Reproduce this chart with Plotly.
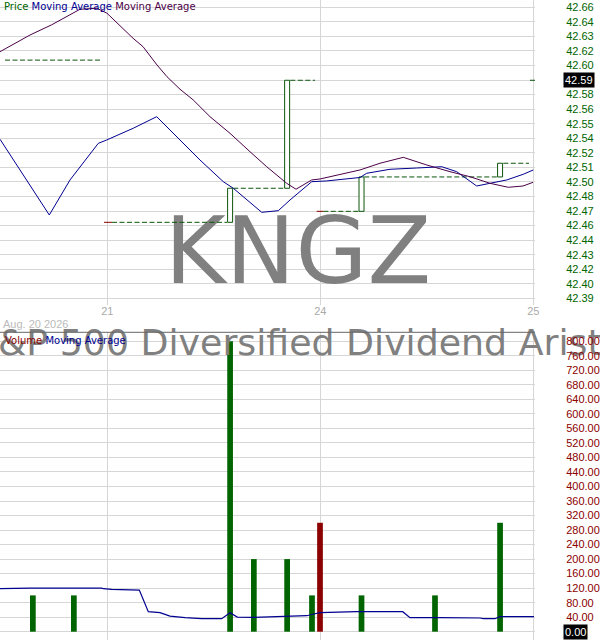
import plotly.graph_objects as go

# ---------------- data ----------------
# x positions are in trading-day units: 1 = start of Aug 21, 2 = Aug 24, 3 = Aug 25
day_ticks = [1, 2, 3]
day_labels = ["21", "24", "25"]
x_start, x_end = 0.4962, 3.008
date_label = "Aug. 20 2026"
ticker = "KNGZ"
fund_name = "S&P 500 Diversified Dividend Aristocrats ETF"

price_tick_base = 42.39
price_tick_step = 0.0135
price_tick_labels = ["42.39", "42.40", "42.42", "42.43", "42.44", "42.46", "42.47",
                     "42.48", "42.50", "42.51", "42.52", "42.54", "42.55", "42.56",
                     "42.58", "42.59", "42.60", "42.62", "42.63", "42.64", "42.66"]
last_price_label = "42.59"

# trades drawn as hollow candles
candle_x = [1.5765, 1.8443, 2.1935, 2.8440]
candle_open = [42.4605, 42.4921, 42.4707, 42.5026]
candle_close = [42.4921, 42.5923, 42.5026, 42.5153]

# last close carried forward (dashed)
flat_x0 = [0.5197, 1.0221, 1.5915, 1.8592, 2.0141, 2.2066, 2.8592]
flat_x1 = [0.9751, 1.5620, 1.8296, 1.9751, 2.1817, 2.8296, 2.9798]
flat_level = [42.611, 42.4605, 42.4921, 42.5923, 42.4707, 42.5026, 42.5153]

# session opening ticks
open_x0 = [0.9845, 1.9831, 2.9845]
open_x1 = [1.0221, 2.0141, 3.0174]
open_level = [42.4605, 42.4707, 42.5923]
open_up = [False, False, True]

# moving averages of price
ma1_x = [0.4962, 0.5901, 0.7277, 0.8249, 0.9577, 0.9972, 1.1221, 1.2319, 1.3413,
         1.4352, 1.5446, 1.5915, 1.7249, 1.8028, 1.8577, 1.9596, 2.0300, 2.1864,
         2.2178, 2.3272, 2.4526, 2.5700, 2.6404, 2.7343, 2.7967, 2.8751, 2.9531, 3.0000]
ma1_y = [42.5376, 42.5091, 42.4673, 42.4998, 42.5338, 42.5369, 42.5478, 42.5585, 42.5369,
         42.5183, 42.4982, 42.4921, 42.4698, 42.4713, 42.4812, 42.4982, 42.4989, 42.5021,
         42.5060, 42.5097, 42.5109, 42.5121, 42.5075, 42.4942, 42.4967, 42.4998, 42.5051, 42.5091]

ma2_x = [0.4962, 0.6371, 0.7371, 0.8718, 0.9516, 0.9986, 1.1207, 1.1676, 1.2333, 1.2803,
         1.3413, 1.4038, 1.4822, 1.5761, 1.6700, 1.7484, 1.8423, 1.8859, 1.9596, 1.9986,
         2.1864, 2.2803, 2.3897, 2.4995, 2.6089, 2.7028, 2.7967, 2.8826, 2.9516, 2.9986]
ma2_y = [42.6188, 42.6343, 42.6436, 42.6582, 42.6591, 42.6545, 42.6313, 42.6235, 42.6065, 42.5956,
         42.5840, 42.5740, 42.5585, 42.5431, 42.5260, 42.5121, 42.4967, 42.4912, 42.4998, 42.5007,
         42.5091, 42.5153, 42.5208, 42.5137, 42.5075, 42.5028, 42.4967, 42.4930, 42.4942, 42.4976]

# volume
vol_x = [0.6505, 0.8430, 1.5765, 1.6880, 1.8443, 1.9610, 1.9986, 2.1935, 2.5385, 2.8440]
vol = [100, 100, 800, 200, 200, 100, 300, 100, 100, 300]
vol_up = [True, True, True, True, True, True, False, True, True, True]
vol_ticks = list(range(0, 801, 40))
last_volume_label = "0.00"

vol_ma_x = [0.4962, 0.6371, 0.9737, 0.9812, 1.0207, 1.1502, 1.1925, 1.2474, 1.2944, 1.3648,
            1.4432, 1.5371, 1.5761, 1.6103, 1.6854, 1.7638, 1.9362, 1.9751, 1.9986, 2.1709,
            2.3869, 2.4211, 2.5150, 2.5620, 2.7498, 2.7653, 2.8202, 2.8437, 3.0033]
vol_ma_y = [118.4, 120.0, 120.0, 118.4, 116.4, 114.5, 55.0, 52.3, 43.0, 38.5,
            35.8, 35.8, 52.3, 40.2, 39.4, 41.3, 44.0, 49.5, 52.3, 55.0,
            55.0, 38.5, 39.4, 38.5, 37.7, 35.8, 35.8, 41.3, 41.3]

# ---------------- style ----------------
GREEN = "#006400"
CANDLE = "#0b560b"
RED = "#8b0000"
NAVY = "#000090"
PURPLE = "#4b0048"
GRID = "#d6d6d6"
W, H = 600, 640
PLOT_R = 535  # px right edge of the plotting area

price_tickvals = [price_tick_base + i * price_tick_step for i in range(len(price_tick_labels))]
price_ticktext = ["" if t == last_price_label else t for t in price_tick_labels]
last_price_val = price_tickvals[price_tick_labels.index(last_price_label)]

px_per_price = 305 / 0.283
price_range = [price_tick_base - (305 - 298.3) / px_per_price,
               price_tick_base + 298.3 / px_per_price]
vol_range = [-22.9, 824.8]

fig = go.Figure()

# watermarks (drawn first, below the data)
fig.add_trace(go.Scatter(x=[1.8953], y=[42.4262], mode="text", text=[ticker],
                         textfont=dict(family="DejaVu Sans", size=93, color="#808080"),
                         hoverinfo="skip", showlegend=False, cliponaxis=False,
                         xaxis="x", yaxis="y"))
fig.add_trace(go.Scatter(x=[2.2958], y=[787], mode="text", text=[fund_name],
                         textfont=dict(family="DejaVu Sans", size=36.3, color="#808080"),
                         hoverinfo="skip", showlegend=False, cliponaxis=False,
                         xaxis="x2", yaxis="y2"))

# candles as hollow bars
fig.add_trace(go.Bar(x=candle_x,
                     y=[c - o for o, c in zip(candle_open, candle_close)],
                     base=candle_open, width=0.0235,
                     marker=dict(color="white", line=dict(color=CANDLE, width=1)),
                     hoverinfo="skip", showlegend=False, xaxis="x", yaxis="y"))

# carried-forward close, dashed
fx, fy = [], []
for a, b, lv in zip(flat_x0, flat_x1, flat_level):
    fx += [a, b, None]
    fy += [lv, lv, None]
fig.add_trace(go.Scatter(x=fx, y=fy, mode="lines",
                         line=dict(color=CANDLE, width=1, dash="5px,2.5px"),
                         hoverinfo="skip", showlegend=False, xaxis="x", yaxis="y"))

# opening ticks
for a, b, lv, up in zip(open_x0, open_x1, open_level, open_up):
    fig.add_trace(go.Scatter(x=[a, b], y=[lv, lv], mode="lines",
                             line=dict(color=CANDLE if up else RED, width=1),
                             hoverinfo="skip", showlegend=False, xaxis="x", yaxis="y"))

# moving averages
fig.add_trace(go.Scatter(x=ma1_x, y=ma1_y, mode="lines", line=dict(color=NAVY, width=1),
                         hoverinfo="skip", showlegend=False, xaxis="x", yaxis="y"))
fig.add_trace(go.Scatter(x=ma2_x, y=ma2_y, mode="lines", line=dict(color=PURPLE, width=1),
                         hoverinfo="skip", showlegend=False, xaxis="x", yaxis="y"))

# volume bars
fig.add_trace(go.Bar(x=vol_x, y=vol, width=0.0268,
                     marker=dict(color=[GREEN if u else RED for u in vol_up], line=dict(width=0)),
                     hoverinfo="skip", showlegend=False, xaxis="x2", yaxis="y2"))
fig.add_trace(go.Scatter(x=vol_ma_x, y=vol_ma_y, mode="lines", line=dict(color=NAVY, width=1.2),
                         hoverinfo="skip", showlegend=False, xaxis="x2", yaxis="y2"))

top_dom = [1 - 305 / H, 1]
bot_dom = [0, 1 - 332.3 / H]

axis_common = dict(showgrid=True, gridcolor=GRID, gridwidth=1, zeroline=False,
                   showline=False, fixedrange=True)

fig.update_layout(
    width=W, height=H,
    margin=dict(l=0, r=W - PLOT_R, t=0, b=0),
    paper_bgcolor="white", plot_bgcolor="white",
    barmode="overlay", showlegend=False, hovermode=False,
    xaxis=dict(domain=[0, 1], range=[x_start, x_end], tickmode="array",
               tickvals=day_ticks, ticktext=day_labels, anchor="y",
               tickfont=dict(family="Liberation Sans", size=11, color="#aaaaaa"),
               ticks="", ticklabelstandoff=-2, **axis_common),
    yaxis=dict(domain=top_dom, range=price_range, side="right", anchor="x",
               tickmode="array", tickvals=price_tickvals, ticktext=price_ticktext,
               tickfont=dict(family="Liberation Sans", size=11, color=GREEN),
               ticks="outside", ticklen=28, tickcolor="rgba(0,0,0,0)", **axis_common),
    xaxis2=dict(domain=[0, 1], range=[x_start, x_end], tickmode="array",
                tickvals=day_ticks, showticklabels=False, anchor="y2", ticks="",
                matches="x", **axis_common),
    yaxis2=dict(domain=bot_dom, range=vol_range, side="right", anchor="x2",
                tickmode="array", tickvals=vol_ticks,
                ticktext=["" if f"{v:.2f}" == last_volume_label else f"{v:.2f}" for v in vol_ticks],
                tickfont=dict(family="Liberation Sans", size=11, color=RED),
                ticks="outside", ticklen=28, tickcolor="rgba(0,0,0,0)", **axis_common),
    shapes=[dict(type="line", xref="paper", yref="paper", x0=0, x1=1,
                 y0=bot_dom[1], y1=bot_dom[1], line=dict(color="#666666", width=1))],
    annotations=[
        dict(xref="paper", yref="paper", x=3 / PLOT_R, y=1, xanchor="left", yanchor="top",
             showarrow=False, borderpad=0,
             text=(f"<span style='color:{GREEN}'>Price</span> "
                   f"<span style='color:{NAVY}'>Moving Average</span> "
                   f"<span style='color:{PURPLE}'>Moving Average</span>"),
             font=dict(family="DejaVu Sans", size=10)),
        dict(xref="paper", yref="paper", x=4 / PLOT_R, y=1 - 333.5 / H, xanchor="left",
             yanchor="top", showarrow=False, borderpad=0,
             text=(f"<span style='color:{RED}'>Volume</span> "
                   f"<span style='color:{NAVY}'>Moving Average</span>"),
             font=dict(family="DejaVu Sans", size=10)),
        dict(xref="paper", yref="paper", x=2 / PLOT_R, y=1 - 323.5 / H, xanchor="left",
             yanchor="middle", showarrow=False, borderpad=0, text=date_label,
             font=dict(family="Liberation Sans", size=11, color="#bbbbbb")),
        dict(xref="paper", yref="y", x=563 / PLOT_R, y=last_price_val, xanchor="left",
             yanchor="middle", showarrow=False, borderpad=1, bgcolor="black",
             text=last_price_label, font=dict(family="Liberation Sans", size=11, color="white")),
        dict(xref="paper", yref="y2", x=563 / PLOT_R, y=0, xanchor="left",
             yanchor="middle", showarrow=False, borderpad=1, bgcolor="black",
             text=last_volume_label, font=dict(family="Liberation Sans", size=11, color="white")),
    ],
)

fig.write_html("out.html", config={"displayModeBar": False},
               post_script="document.body.style.margin='0';document.body.style.padding='0';")
